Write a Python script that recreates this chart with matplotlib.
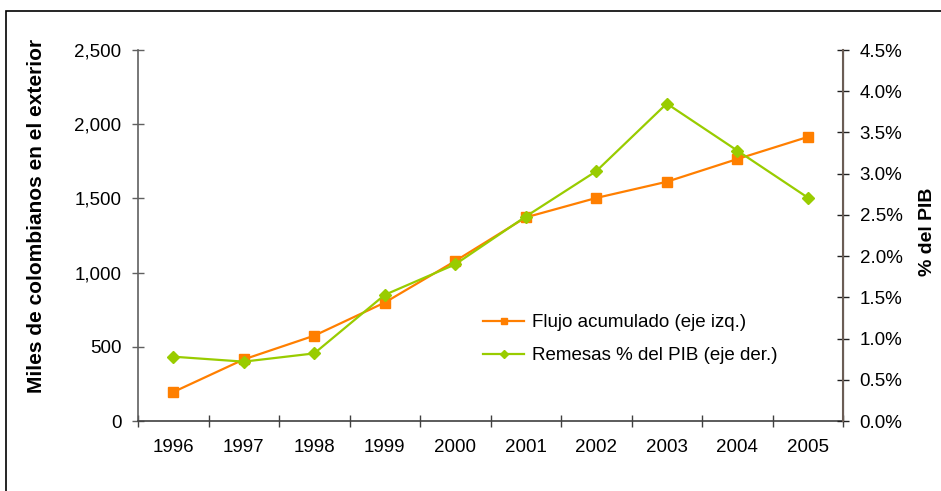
import numpy as np
import matplotlib
matplotlib.use("Agg")
import matplotlib.pyplot as plt
from matplotlib.ticker import FuncFormatter, FixedLocator
from matplotlib.patches import Rectangle

plt.rcParams['font.family'] = ['Liberation Sans', 'DejaVu Sans']

# data
years = ["1996", "1997", "1998", "1999", "2000", "2001", "2002", "2003", "2004", "2005"]
flujo = [195, 415, 575, 798, 1078, 1372, 1503, 1612, 1765, 1914]       # miles de personas (eje izq.)
remesas = [0.78, 0.72, 0.82, 1.53, 1.90, 2.48, 3.03, 3.85, 3.28, 2.71]  # % del PIB (eje der.)

orange = "#FF7F00"
green = "#99CC00"

fig = plt.figure(figsize=(9.41, 4.91), dpi=100)
ax = fig.add_axes([138/941, 1-421/491, (843-138)/941, (421-50)/491])
ax2 = ax.twinx()

x = np.arange(len(years))
l1, = ax.plot(x, flujo, color=orange, lw=1.6, marker='s', ms=6.5, mec=orange, label="Flujo acumulado (eje izq.)")
l2, = ax2.plot(x, remesas, color=green, lw=1.6, marker='D', ms=6, mec=green, label="Remesas % del PIB (eje der.)")

ax.set_xlim(-0.5, len(years)-0.5)
ax.set_ylim(0, 2500)
ax2.set_ylim(0, 4.5)
ax.set_yticks(np.arange(0, 2501, 500))
ax2.set_yticks(np.arange(0, 4.51, 0.5))
ax.yaxis.set_major_formatter(FuncFormatter(lambda v, p: f"{v:,.0f}"))
ax2.yaxis.set_major_formatter(FuncFormatter(lambda v, p: f"{v:.1f}%"))

# category axis: ticks between categories, labels centered
ax.xaxis.set_major_locator(FixedLocator(np.arange(-0.5, len(years), 1.0)))
ax.set_xticklabels([])
ax.xaxis.set_minor_locator(FixedLocator(x))
ax.set_xticklabels(years, minor=True)
ax.tick_params(axis='x', which='major', direction='inout', length=9, width=1, color='#404040')
ax.tick_params(axis='x', which='minor', length=0, pad=13, labelsize=13.5)
ax.tick_params(axis='y', direction='inout', length=8, width=1, color='#606060', pad=8, labelsize=13.5)
ax2.tick_params(axis='y', direction='inout', length=8, width=1, color='#202020', pad=8, labelsize=13.5)

for a in (ax, ax2):
    a.spines['top'].set_visible(False)
ax.spines['left'].set_color('#606060')
ax.spines['bottom'].set_color('#404040')
ax2.spines['right'].set_color('#6B5D55')
ax2.spines['left'].set_visible(False)
ax2.spines['bottom'].set_visible(False)
for s in ('left', 'bottom'):
    ax.spines[s].set_linewidth(1.2)
ax2.spines['right'].set_linewidth(1.5)

fig.text(37/941, 1-216/491, "Miles de colombianos en el exterior", rotation=90,
         ha='center', va='center', fontsize=15, fontweight='bold')
fig.text(927/941, 1-232/491, "% del PIB", rotation=90,
         ha='center', va='center', fontsize=14, fontweight='bold')

ax2.legend(handles=[l1, l2], loc='upper left', bbox_to_anchor=(483/941, 1-314/491),
           bbox_transform=fig.transFigure, frameon=False, fontsize=13.5,
           handlelength=2.2, handletextpad=0.4, labelspacing=0.85, borderpad=0,
           borderaxespad=0, markerscale=0.75)

# outer frame (cut off at right and bottom)
fig.patches.append(Rectangle((6/941, -0.1), 1.2, 1.1 - 11/491, transform=fig.transFigure,
                             fill=False, edgecolor='black', lw=1.2))

fig.savefig("out.png", dpi=100)
